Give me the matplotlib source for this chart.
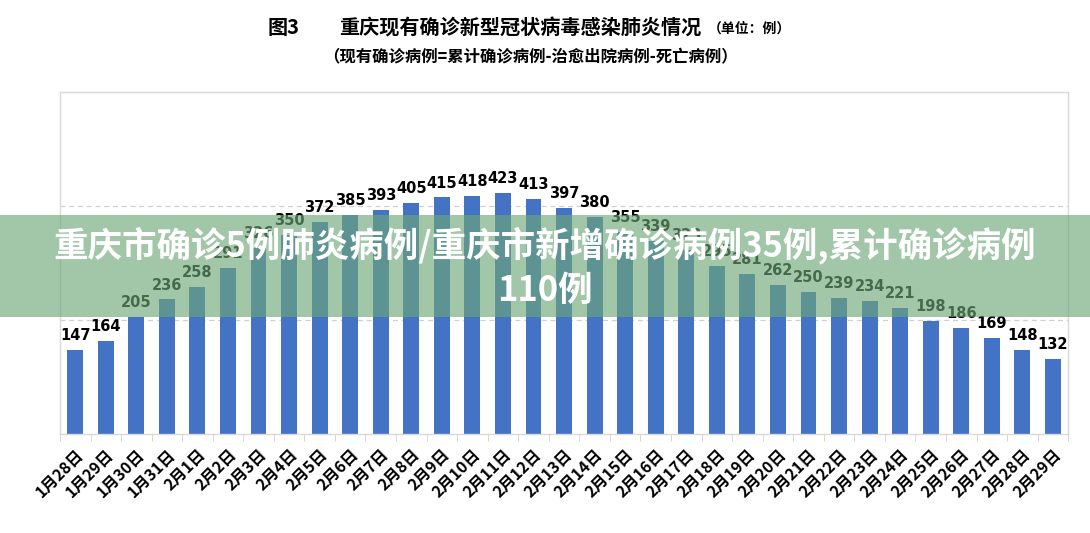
import matplotlib
matplotlib.use("Agg")
import matplotlib.pyplot as plt
from matplotlib.patches import Rectangle

plt.rcParams['font.family'] = ['Noto Sans CJK SC', 'DejaVu Sans']

# data
dates = ['1月28日', '1月29日', '1月30日', '1月31日'] + ['2月%d日' % d for d in range(1, 30)]
cases = [147, 164, 205, 236, 258, 291, 326, 350, 372, 385, 393, 405, 415, 418,
         423, 413, 397, 380, 355, 339, 323, 295, 281, 262, 250, 239, 234, 221,
         198, 186, 169, 148, 132]

title_fig = '图3'
title_main = '重庆现有确诊新型冠状病毒感染肺炎情况'
title_unit = '（单位：例）'
subtitle = '（现有确诊病例=累计确诊病例-治愈出院病例-死亡病例）'
banner = '重庆市确诊5例肺炎病例/重庆市新增确诊病例35例,累计确诊病例\n110例'

fig = plt.figure(figsize=(10.9, 5.33), dpi=100)
ax = fig.add_axes([0.055, 0.1857, 0.925, 0.6417])

x = list(range(len(cases)))
ax.bar(x, cases, width=0.52, color='#4472C4', zorder=2)
for xi, v in zip(x, cases):
    ax.annotate(str(v), (xi, v), xytext=(0, 5), textcoords='offset points',
                ha='center', va='bottom', fontsize=10.5, fontweight='bold',
                family='DejaVu Sans', color='black')

ax.set_xlim(-0.5, len(cases) - 0.5)
ax.set_ylim(0, 600)
ax.set_yticks([200, 400])
ax.yaxis.grid(True, linestyle=(0, (4, 3)), color='#d0d0d0', linewidth=0.9)
ax.tick_params(axis='y', length=0, labelleft=False)

ax.set_xticks(x)
ax.set_xticklabels(dates, rotation=45, ha='right', rotation_mode='anchor',
                   fontsize=11.5, fontweight='bold')
ax.tick_params(axis='x', which='major', length=0, pad=9)
ax.set_xticks([i + 0.5 for i in range(-1, len(cases))], minor=True)
ax.tick_params(axis='x', which='minor', length=5, color='#d0d0d0', direction='out')

for s in ax.spines.values():
    s.set_color('#d9d9d9')
    s.set_linewidth(1)

# titles
fig.text(0.2455, 0.948, title_fig, ha='left', va='center', fontsize=14.5,
         fontweight='bold')
fig.text(0.311, 0.948, title_main, ha='left', va='center', fontsize=14.5,
         fontweight='bold')
fig.text(0.649, 0.946, title_unit, ha='left', va='center', fontsize=10,
         fontweight='bold')
fig.text(0.487, 0.892, subtitle, ha='center', va='center', fontsize=11.8,
         fontweight='bold')

# overlay banner
fig.patches.append(Rectangle((0, 1 - 317 / 533), 1, 102 / 533, transform=fig.transFigure,
                             facecolor=(110 / 255, 166 / 255, 120 / 255), alpha=0.64,
                             edgecolor='none', zorder=5))
fig.text(0.5, 1 - 267 / 533, banner, ha='center', va='center', fontsize=24.8,
         fontweight='bold', color='white', linespacing=1.3, zorder=6)

fig.savefig('out.png', dpi=100, facecolor='white')
